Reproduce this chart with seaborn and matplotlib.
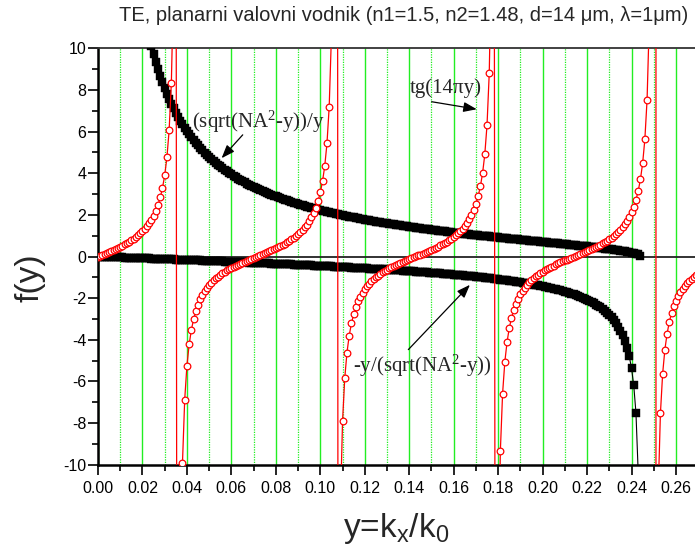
import matplotlib
matplotlib.use('Agg')
import matplotlib.pyplot as plt
import seaborn as sns
import pandas as pd
from matplotlib.ticker import MultipleLocator, FormatStrFormatter

# ---------------- data ----------------
y_vals = [
    0.000, 0.001, 0.002, 0.003, 0.004, 0.005, 0.006, 0.007, 0.008, 0.009,
    0.010, 0.011, 0.012, 0.013, 0.014, 0.015, 0.016, 0.017, 0.018, 0.019,
    0.020, 0.021, 0.022, 0.023, 0.024, 0.025, 0.026, 0.027, 0.028, 0.029,
    0.030, 0.031, 0.032, 0.033, 0.034, 0.035, 0.036, 0.037, 0.038, 0.039,
    0.040, 0.041, 0.042, 0.043, 0.044, 0.045, 0.046, 0.047, 0.048, 0.049,
    0.050, 0.051, 0.052, 0.053, 0.054, 0.055, 0.056, 0.057, 0.058, 0.059,
    0.060, 0.061, 0.062, 0.063, 0.064, 0.065, 0.066, 0.067, 0.068, 0.069,
    0.070, 0.071, 0.072, 0.073, 0.074, 0.075, 0.076, 0.077, 0.078, 0.079,
    0.080, 0.081, 0.082, 0.083, 0.084, 0.085, 0.086, 0.087, 0.088, 0.089,
    0.090, 0.091, 0.092, 0.093, 0.094, 0.095, 0.096, 0.097, 0.098, 0.099,
    0.100, 0.101, 0.102, 0.103, 0.104, 0.105, 0.106, 0.107, 0.108, 0.109,
    0.110, 0.111, 0.112, 0.113, 0.114, 0.115, 0.116, 0.117, 0.118, 0.119,
    0.120, 0.121, 0.122, 0.123, 0.124, 0.125, 0.126, 0.127, 0.128, 0.129,
    0.130, 0.131, 0.132, 0.133, 0.134, 0.135, 0.136, 0.137, 0.138, 0.139,
    0.140, 0.141, 0.142, 0.143, 0.144, 0.145, 0.146, 0.147, 0.148, 0.149,
    0.150, 0.151, 0.152, 0.153, 0.154, 0.155, 0.156, 0.157, 0.158, 0.159,
    0.160, 0.161, 0.162, 0.163, 0.164, 0.165, 0.166, 0.167, 0.168, 0.169,
    0.170, 0.171, 0.172, 0.173, 0.174, 0.175, 0.176, 0.177, 0.178, 0.179,
    0.180, 0.181, 0.182, 0.183, 0.184, 0.185, 0.186, 0.187, 0.188, 0.189,
    0.190, 0.191, 0.192, 0.193, 0.194, 0.195, 0.196, 0.197, 0.198, 0.199,
    0.200, 0.201, 0.202, 0.203, 0.204, 0.205, 0.206, 0.207, 0.208, 0.209,
    0.210, 0.211, 0.212, 0.213, 0.214, 0.215, 0.216, 0.217, 0.218, 0.219,
    0.220, 0.221, 0.222, 0.223, 0.224, 0.225, 0.226, 0.227, 0.228, 0.229,
    0.230, 0.231, 0.232, 0.233, 0.234, 0.235, 0.236, 0.237, 0.238, 0.239,
    0.240, 0.241, 0.242, 0.243, 0.244, 0.245, 0.246, 0.247, 0.248, 0.249,
    0.250, 0.251, 0.252, 0.253, 0.254, 0.255, 0.256, 0.257, 0.258, 0.259,
    0.260, 0.261, 0.262, 0.263, 0.264, 0.265, 0.266, 0.267, 0.268, 0.269,
    0.270,
]

# tg(14*pi*y) (values beyond +-10 lie off the plot)
tg_vals = [
    0.0, 0.0440, 0.0882, 0.1327, 0.1778, 0.2235, 0.2702, 0.3180, 0.3671, 0.4179,
    0.4706, 0.5255, 0.5830, 0.6435, 0.7075, 0.7757, 0.8487, 0.9273, 1.0126, 1.1059,
    1.2087, 1.3232, 1.4517, 1.5978, 1.7661, 1.9626, 2.1963, 2.4800, 2.8333, 3.2873,
    3.8947, 4.7536, 6.0668, 8.3367, 13.238, 31.82, -79.57, -17.665, -9.9137, -6.8716,
    -5.2422, -4.2237, -3.5245, -3.0131, -2.6215, -2.3109, -2.0576, -1.8464, -1.6669, -1.5120,
    -1.3764, -1.2563, -1.1487, -1.0516, -0.9630, -0.8816, -0.8063, -0.7362, -0.6704, -0.6085,
    -0.5497, -0.4938, -0.4402, -0.3887, -0.3389, -0.2905, -0.2434, -0.1973, -0.1519, -0.1072,
    -0.0629, -0.0189, 0.0251, 0.0692, 0.1136, 0.1584, 0.2038, 0.2501, 0.2974, 0.3459,
    0.3959, 0.4477, 0.5016, 0.5580, 0.6171, 0.6796, 0.7459, 0.8167, 0.8928, 0.9752,
    1.0649, 1.1634, 1.2726, 1.3947, 1.5328, 1.6909, 1.8744, 2.0909, 2.3513, 2.6718,
    3.0777, 3.6109, 4.3454, 5.4272, 7.1882, 10.579, 19.878, 159.15, -26.513, -12.216,
    -7.9158, -5.8380, -4.6096, -3.7956, -3.2146, -2.7776, -2.4359, -2.1602, -1.9325, -1.7405,
    -1.5757, -1.4324, -1.3060, -1.1934, -1.0921, -1.0000, -0.9157, -0.8379, -0.7657, -0.6981,
    -0.6346, -0.5746, -0.5175, -0.4629, -0.4105, -0.3600, -0.3111, -0.2635, -0.2169, -0.1713,
    -0.1263, -0.0819, -0.0377, 0.0063, 0.0503, 0.0945, 0.1391, 0.1843, 0.2301, 0.2769,
    0.3249, 0.3743, 0.4253, 0.4783, 0.5335, 0.5914, 0.6524, 0.7170, 0.7858, 0.8595,
    0.9391, 1.0255, 1.1200, 1.2244, 1.3406, 1.4715, 1.6204, 1.7923, 1.9935, 2.2334,
    2.5257, 2.8911, 3.3630, 3.9989, 4.9065, 6.3138, 8.8043, 14.446, 39.780, -53.05,
    -15.894, -9.3264, -6.5812, -5.0690, -4.1085, -3.4420, -2.9510, -2.5729, -2.2716, -2.0252,
    -1.8190, -1.6434, -1.4915, -1.3584, -1.2402, -1.1343, -1.0384, -0.9510, -0.8705, -0.7960,
    -0.7265, -0.6614, -0.5999, -0.5416, -0.4860, -0.4327, -0.3815, -0.3319, -0.2837, -0.2368,
    -0.1908, -0.1455, -0.1009, -0.0566, -0.0126, 0.0314, 0.0755, 0.1200, 0.1648, 0.2104,
    0.2568, 0.3042, 0.3529, 0.4032, 0.4553, 0.5095, 0.5662, 0.6258, 0.6888, 0.7557,
    0.8273, 0.9042, 0.9875, 1.0784, 1.1783, 1.2892, 1.4134, 1.5541, 1.7153, 1.9031,
    2.1251, 2.3931, 2.7239, 3.1449, 3.7010, 4.4737, 5.6253, 7.5347, 11.339, 22.722,
    1.0e4, -22.722, -11.339, -7.5347, -5.6253, -4.4737, -3.7010, -3.1449, -2.7239, -2.3931,
    -2.1251, -1.9031, -1.7153, -1.5541, -1.4135, -1.2892, -1.1783, -1.0784, -0.9875, -0.9042,
    -0.8273,
]

# (sqrt(NA^2-y))/y  -- black squares, y = 0.020 ... 0.244
upper_vals = [
    12.166, 11.582, 11.052, 10.567, 10.123, 9.714, 9.336, 8.986, 8.661, 8.359,
    8.076, 7.812, 7.563, 7.330, 7.110, 6.903, 6.707, 6.522, 6.346, 6.179,
    6.021, 5.870, 5.726, 5.589, 5.458, 5.332, 5.212, 5.097, 4.987, 4.881,
    4.779, 4.681, 4.587, 4.496, 4.409, 4.325, 4.243, 4.165, 4.089, 4.015,
    3.944, 3.875, 3.809, 3.744, 3.681, 3.620, 3.561, 3.504, 3.448, 3.394,
    3.341, 3.290, 3.240, 3.191, 3.144, 3.098, 3.053, 3.009, 2.966, 2.924,
    2.883, 2.843, 2.804, 2.766, 2.729, 2.692, 2.657, 2.622, 2.588, 2.554,
    2.522, 2.489, 2.458, 2.427, 2.397, 2.367, 2.338, 2.310, 2.282, 2.254,
    2.227, 2.201, 2.175, 2.149, 2.124, 2.099, 2.075, 2.051, 2.027, 2.004,
    1.981, 1.959, 1.937, 1.915, 1.894, 1.873, 1.852, 1.831, 1.811, 1.791,
    1.772, 1.752, 1.733, 1.714, 1.696, 1.678, 1.660, 1.642, 1.624, 1.607,
    1.590, 1.573, 1.556, 1.539, 1.523, 1.507, 1.491, 1.475, 1.459, 1.444,
    1.429, 1.413, 1.398, 1.384, 1.369, 1.355, 1.340, 1.326, 1.312, 1.298,
    1.284, 1.270, 1.257, 1.243, 1.230, 1.217, 1.204, 1.191, 1.178, 1.165,
    1.152, 1.140, 1.127, 1.115, 1.103, 1.090, 1.078, 1.066, 1.054, 1.042,
    1.031, 1.019, 1.007, 0.996, 0.984, 0.973, 0.961, 0.950, 0.939, 0.927,
    0.916, 0.905, 0.894, 0.883, 0.872, 0.861, 0.850, 0.839, 0.828, 0.818,
    0.807, 0.796, 0.785, 0.775, 0.764, 0.753, 0.743, 0.732, 0.721, 0.711,
    0.700, 0.689, 0.679, 0.668, 0.657, 0.647, 0.636, 0.625, 0.614, 0.604,
    0.593, 0.582, 0.571, 0.560, 0.549, 0.538, 0.527, 0.515, 0.504, 0.493,
    0.481, 0.469, 0.458, 0.446, 0.433, 0.421, 0.409, 0.396, 0.383, 0.369,
    0.356, 0.342, 0.328, 0.313, 0.297, 0.281, 0.265, 0.247, 0.228, 0.208,
    0.186, 0.162, 0.133, 0.097, 0.033,
]

# -y/(sqrt(NA^2-y))  -- black squares, y = 0.000 ... 0.244
lower_vals = [
    0.0, -0.0041, -0.0082, -0.0123, -0.0164, -0.0205, -0.0246, -0.0287, -0.0328, -0.0369,
    -0.0410, -0.0451, -0.0492, -0.0533, -0.0574, -0.0616, -0.0657, -0.0698, -0.0739, -0.0781,
    -0.0822, -0.0863, -0.0905, -0.0946, -0.0988, -0.1029, -0.1071, -0.1113, -0.1155, -0.1196,
    -0.1238, -0.1280, -0.1322, -0.1364, -0.1406, -0.1449, -0.1491, -0.1533, -0.1576, -0.1618,
    -0.1661, -0.1704, -0.1746, -0.1789, -0.1832, -0.1875, -0.1919, -0.1962, -0.2005, -0.2049,
    -0.2092, -0.2136, -0.2180, -0.2224, -0.2268, -0.2312, -0.2357, -0.2401, -0.2446, -0.2491,
    -0.2535, -0.2580, -0.2626, -0.2671, -0.2717, -0.2762, -0.2808, -0.2854, -0.2900, -0.2946,
    -0.2993, -0.3040, -0.3087, -0.3134, -0.3181, -0.3228, -0.3276, -0.3324, -0.3372, -0.3420,
    -0.3468, -0.3517, -0.3566, -0.3615, -0.3665, -0.3714, -0.3764, -0.3814, -0.3864, -0.3915,
    -0.3966, -0.4017, -0.4068, -0.4120, -0.4172, -0.4224, -0.4277, -0.4330, -0.4383, -0.4436,
    -0.4490, -0.4544, -0.4599, -0.4653, -0.4709, -0.4764, -0.4820, -0.4876, -0.4933, -0.4990,
    -0.5047, -0.5105, -0.5163, -0.5222, -0.5281, -0.5340, -0.5400, -0.5460, -0.5521, -0.5583,
    -0.5644, -0.5707, -0.5769, -0.5833, -0.5897, -0.5961, -0.6026, -0.6091, -0.6157, -0.6224,
    -0.6291, -0.6359, -0.6427, -0.6497, -0.6566, -0.6637, -0.6708, -0.6780, -0.6853, -0.6926,
    -0.7000, -0.7075, -0.7151, -0.7227, -0.7304, -0.7383, -0.7462, -0.7542, -0.7622, -0.7705,
    -0.7788, -0.7872, -0.7956, -0.8042, -0.8130, -0.8218, -0.8307, -0.8398, -0.8490, -0.8583,
    -0.8677, -0.8773, -0.8870, -0.8969, -0.9069, -0.9170, -0.9273, -0.9378, -0.9485, -0.9593,
    -0.9703, -0.9814, -0.9928, -1.0044, -1.0161, -1.0281, -1.0402, -1.0527, -1.0654, -1.0783,
    -1.0914, -1.1048, -1.1186, -1.1325, -1.1468, -1.1613, -1.1762, -1.1915, -1.2071, -1.2231,
    -1.2394, -1.2562, -1.2734, -1.2910, -1.3090, -1.3276, -1.3466, -1.3662, -1.3865, -1.4072,
    -1.4286, -1.4506, -1.4734, -1.4969, -1.5213, -1.5464, -1.5724, -1.5993, -1.6274, -1.6565,
    -1.6867, -1.7182, -1.7512, -1.7856, -1.8214, -1.8591, -1.8986, -1.9401, -1.9838, -2.0300,
    -2.0788, -2.1305, -2.1857, -2.2446, -2.3074, -2.3749, -2.4477, -2.5267, -2.6126, -2.7065,
    -2.8100, -2.9244, -3.0526, -3.1970, -3.3621, -3.5531, -3.7772, -4.0464, -4.3774, -4.8001,
    -5.3667, -6.1842, -7.5178, -10.354, -30.5,
]

x_ticks = [0.00, 0.02, 0.04, 0.06, 0.08, 0.10, 0.12, 0.14, 0.16, 0.18, 0.20, 0.22, 0.24, 0.26]
y_ticks = [-10, -8, -6, -4, -2, 0, 2, 4, 6, 8, 10]

title = "TE, planarni valovni vodnik (n1=1.5, n2=1.48, d=14 \u03bcm, \u03bb=1\u03bcm)"
lbl_upper = "(sqrt(NA$^{2}$-y))/y"
lbl_lower = "-y/(sqrt(NA$^{2}$-y))"
lbl_tg = "tg(14\u03c0y)"

# ---------------- build tables ----------------
df_tg = pd.DataFrame({"y": y_vals, "f": tg_vals})
df_up = pd.DataFrame({"y": y_vals[20:245], "f": upper_vals})
df_lo = pd.DataFrame({"y": y_vals[:245], "f": lower_vals})

# ---------------- style ----------------
sns.set_style("ticks")
plt.rcParams['font.family'] = ['Liberation Sans', 'DejaVu Sans']
plt.rcParams['axes.unicode_minus'] = False
plt.rcParams['mathtext.default'] = 'regular'

W, H = 695, 551
fig = plt.figure(figsize=(W / 100, H / 100), dpi=100)
x0, x1 = 98, 695
ytop, ybot = 48.2, 464.8
ax = fig.add_axes([x0 / W, 1 - ybot / H, (x1 - x0) / W, (ybot - ytop) / H])
ax.set_facecolor('white')

# grid (vertical only)
ax.xaxis.set_major_locator(MultipleLocator(0.02))
ax.xaxis.set_minor_locator(MultipleLocator(0.01))
ax.yaxis.set_major_locator(MultipleLocator(2))
ax.yaxis.set_minor_locator(MultipleLocator(1))
ax.set_xticks(x_ticks)
ax.set_yticks(y_ticks)
ax.grid(which='major', axis='x', color='#22ee22', linewidth=1.0, linestyle='-', zorder=0)
ax.grid(which='minor', axis='x', color='#22ee22', linewidth=0.9, linestyle=(0, (1, 1)), zorder=0)
ax.grid(which='both', axis='y', visible=False)
ax.set_axisbelow(True)

ax.axhline(0, color='#222222', linewidth=1.3, zorder=1.5)

# series
sns.lineplot(data=df_up, x="y", y="f", ax=ax, sort=False, estimator=None,
             color='black', linewidth=0.8, marker='s', markersize=5.6,
             markerfacecolor='black', markeredgecolor='black', markeredgewidth=0.3,
             zorder=3)
sns.lineplot(data=df_lo, x="y", y="f", ax=ax, sort=False, estimator=None,
             color='black', linewidth=0.8, marker='s', markersize=5.6,
             markerfacecolor='black', markeredgecolor='black', markeredgewidth=0.3,
             zorder=3)
sns.lineplot(data=df_tg, x="y", y="f", ax=ax, sort=False, estimator=None,
             color='red', linewidth=0.9, marker='o', markersize=4.8,
             markerfacecolor='white', markeredgecolor='red', markeredgewidth=0.9,
             zorder=4)

ax.set_xlim(0, (x1 - x0) / 2223.0)
ax.set_ylim(-10, 10)
ax.set_xlabel('')
ax.set_ylabel('')

ax.xaxis.set_major_formatter(FormatStrFormatter('%.2f'))
ax.yaxis.set_major_formatter(FormatStrFormatter('%d'))
ax.tick_params(axis='both', which='major', direction='out', length=7, width=1.2,
               labelsize=11.5, color='black', labelcolor='black')
ax.tick_params(axis='both', which='minor', direction='out', length=4, width=1.2, color='black')
ax.tick_params(axis='x', which='major', pad=5)
ax.tick_params(axis='y', which='major', pad=1.5)

for s in ['left', 'bottom']:
    ax.spines[s].set_color('black')
    ax.spines[s].set_linewidth(1.8)
ax.spines['top'].set_visible(True)
ax.spines['top'].set_color('#333333')
ax.spines['top'].set_linewidth(1.3)
ax.spines['right'].set_visible(False)

# annotations
serif = ['Liberation Serif', 'DejaVu Serif']
ax.text(0.0423, 6.46, lbl_upper, family=serif, fontsize=15, ha='left', va='center', zorder=6)
ax.text(0.1404, 8.09, lbl_tg, family=serif, fontsize=15, ha='left', va='center', zorder=6)
ax.text(0.1147, -5.24, lbl_lower, family=serif, fontsize=15, ha='left', va='center', zorder=6)

arrow_kw = dict(arrowstyle='-|>,head_length=0.8,head_width=0.3', color='black', lw=0.9,
                shrinkA=0, shrinkB=0)
ax.annotate('', xy=(0.0556, 4.72), xytext=(0.0651, 5.84), arrowprops=arrow_kw, zorder=6)
ax.annotate('', xy=(0.1704, 7.07), xytext=(0.1501, 7.43), arrowprops=arrow_kw, zorder=6)
ax.annotate('', xy=(0.1673, -1.36), xytext=(0.1396, -4.47), arrowprops=arrow_kw, zorder=6)

# titles / axis labels
fig.text(403.5 / W, 1 - 21 / H, title, ha='center', va='baseline', fontsize=14.5)
fig.text(30 / W, 1 - 278 / H, 'f(y)', rotation=90, ha='center', va='center', fontsize=24)
fig.text(396 / W, 1 - 536.7 / H, r'y=k$_{x}$/k$_{0}$', ha='center', va='baseline', fontsize=24)

fig.savefig('out.png', dpi=100)
